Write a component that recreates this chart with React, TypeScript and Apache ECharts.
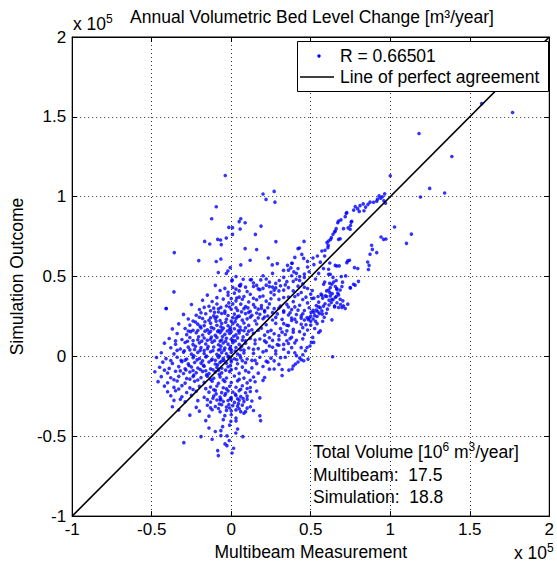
import React, { useEffect, useRef } from "react";
import * as echarts from "echarts";

// Values in thousands of m³/year: [multibeam measurement, simulation outcome]
const coreCloud: [number, number][] = [
  [-10, 44.5], [1, 43.2], [6, 45.1], [14, 43.8], [22, 44.6], [28, 42.9], [0.4, 47.3], [5.6, 44.1],
  [-36, 40.4], [-7, 41.3], [-2, 40.2], [5, 41], [10, 40.6], [18, 41.8], [25, 40.1], [33, 41.5],
  [-15, 38.4], [-2, 38.3], [2, 39.6], [8, 37.5], [12, 38.9], [20, 37.8], [27, 38.6], [36, 37.2],
  [-18, 35.2], [-12, 34.4], [-5, 35.9], [3, 34.8], [7, 35.8], [11, 34.1], [16, 35.5], [22, 34.6], [30, 35.7], [39, 34.3],
  [-25, 32.5], [-14, 31.4], [-9, 32.8], [-3, 31.6], [1, 32.9], [6, 32.7], [9, 31.2], [14, 32.4], [19, 31.8], [24, 32.9], [31, 31.5], [35, 32.6],
  [-41, 30], [-20, 29.4], [-13, 28.6], [-8, 29.8], [-4, 28.4], [0, 29.5], [4, 28.8], [8, 29.9], [12, 28.3], [17, 29.6], [21, 28.7], [27, 29.9], [33, 28.5], [38, 29.3],
  [-30, 26.3], [-22, 25.8], [-16, 26.7], [-11, 25.4], [-6, 26.9], [-2, 25.6], [2, 26.5], [5, 25.2], [9, 26.8], [13, 25.7], [18, 26.4], [23, 25.3], [29, 26.6], [36, 25.9], [41, 26.2],
  [-27, 23.4], [-24, 22.2], [-18, 23.7], [-14, 22.6], [-10, 23.9], [-7, 22.4], [-3, 23.3], [0, 22.1], [3, 23.8], [7, 22.7], [10, 23.5], [15, 22.3], [20, 23.6], [26, 22.8], [32, 23.2], [38, 22.5],
  [-33, 20.4], [-26, 19.6], [-21, 20.2], [-17, 19.3], [-13, 20.8], [-9, 19.5], [-6, 20.6], [-2, 19.2], [1, 20.5], [4, 19.7], [8, 20.9], [11, 19.4], [16, 20.3], [22, 19.8], [28, 20.7], [35, 19.5], [44, 20.1],
  [-37, 17.2], [-29, 17.5], [-24, 16.4], [-19, 17.8], [-15, 16.6], [-11, 17.4], [-8, 16.2], [-5, 17.7], [-1, 16.8], [2, 17.3], [6, 16.5], [9, 17.9], [13, 16.7], [19, 17.6], [25, 16.3], [31, 17.4], [39, 16.9],
  [-34, 14.3], [-28, 13.6], [-22, 14.8], [-18, 13.4], [-14, 14.6], [-10, 13.2], [-7, 14.9], [-4, 13.8], [-1, 14.4], [3, 13.5], [5, 14.7], [10, 13.9], [14, 14.5], [21, 13.3], [27, 14.2], [34, 13.7],
  [-39, 11.2], [-31, 10.6], [-26, 11.8], [-21, 10.4], [-17, 11.5], [-13, 10.8], [-9, 11.9], [-6, 10.3], [-3, 11.4], [0, 10.7], [4, 11.6], [7, 10.2], [12, 11.3], [18, 10.9], [24, 11.7], [30, 10.5], [37, 11.1],
  [-42, 8.3], [-35, 7.6], [-29, 8.7], [-24, 7.4], [-20, 8.5], [-16, 7.8], [-12, 8.9], [-8, 7.3], [-5, 8.4], [-2, 7.7], [1, 8.6], [5, 7.5], [9, 8.2], [15, 7.9], [22, 8.8], [29, 7.4], [36, 8.1],
  [-38, 5.4], [-32, 4.6], [-27, 5.8], [-23, 4.3], [-19, 5.5], [-15, 4.8], [-11, 5.9], [-7, 4.4], [-4, 5.2], [-1, 4.7], [3, 5.6], [6, 4.2], [11, 5.3], [17, 4.9], [26, 5.7], [33, 4.5],
  [-44, 2.3], [-36, 1.6], [-30, 2.7], [-25, 1.4], [-21, 2.5], [-17, 1.8], [-13, 2.9], [-9, 1.3], [-6, 2.4], [-3, 1.7], [0, 2.6], [4, 1.5], [8, 2.2], [14, 1.9], [20, 2.8], [28, 1.6],
  [-47, -0.7], [-41, -1.4], [-34, -0.5], [-28, -1.6], [-24, -0.8], [-20, -1.3], [-16, -0.4], [-12, -1.7], [-8, -0.6], [-5, -1.2], [-2, -0.3], [2, -1.5], [6, -0.9], [10, -1.6], [18, -0.5], [25, -1.1], [31, -0.8],
  [-43, -3.6], [-37, -4.4], [-31, -3.3], [-27, -4.7], [-23, -3.8], [-19, -4.2], [-14, -3.5], [-10, -4.8], [-7, -3.7], [-3, -4.3], [0, -3.4], [4, -4.6], [9, -3.9], [16, -4.5], [23, -3.6],
  [-45, -6.8], [-39, -7.5], [-33, -6.4], [-29, -7.7], [-25, -6.6], [-21, -7.3], [-17, -6.2], [-13, -7.8], [-9, -6.9], [-6, -7.4], [-2, -6.5], [3, -7.6], [7, -6.7], [13, -7.2], [20, -6.3], [27, -7.9],
  [-48, -9.6], [-40, -10.4], [-35, -9.3], [-30, -10.7], [-26, -9.8], [-22, -10.2], [-18, -9.4], [-14, -10.8], [-10, -9.7], [-6, -10.3], [-1, -9.5], [5, -10.6], [11, -9.9], [17, -10.5],
  [-44, -12.7], [-38, -13.4], [-33, -12.5], [-28, -13.8], [-24, -12.6], [-19, -13.3], [-15, -12.4], [-11, -13.7], [-7, -12.8], [-3, -13.5], [2, -12.3], [8, -13.6], [14, -12.9], [21, -13.2],
  [-46, -15.8], [-40, -16.5], [-34, -15.4], [-29, -16.7], [-23, -15.6], [-17, -16.3], [-12, -15.5], [-8, -16.8], [-4, -15.7], [0, -16.4], [4, -15.3], [10, -16.6], [15, -15.9],
  [-42, -18.6], [-36, -19.4], [-31, -18.3], [-26, -19.7], [-20, -18.8], [-13, -19.2], [-9, -18.5], [-5, -19.6], [-1, -18.7], [3, -19.3], [7, -18.4], [12, -19.5],
  [-40, -22.1], [-35, -21.5], [-28, -22.6], [-22, -21.8], [-14, -22.4], [-10, -21.3], [-6, -22.7], [-2, -21.6], [1, -22.3], [5, -21.4], [9, -22.8], [16, -21.7],
  [-38, -24.6], [-31, -25.3], [-25, -24.4], [-17, -25.6], [-11, -24.8], [-7, -25.5], [-4, -24.3], [0, -25.7], [3, -24.5], [6, -25.2], [10, -24.9],
  [-36, -27.5], [-29, -28.4], [-21, -27.7], [-13, -28.6], [-9, -27.3], [-5, -28.2], [-2, -27.6], [2, -28.8], [5, -27.4], [8, -28.3], [13, -27.9],
  [-37, -31.5], [-22, -31.9], [-15, -30.6], [-10, -31.4], [-6, -30.3], [-3, -31.7], [1, -30.8], [4, -31.2], [7, -30.5], [12, -31.5],
  [-33, -33.6], [-20, -34.3], [-12, -33.4], [-7, -34.7], [-3, -33.8], [0, -34.2], [3, -33.5], [6, -34.6], [9, -34.6], [14, -33.9],
  [-26, -36.8], [-14, -37.4], [-4, -37.1], [0, -36.5], [3, -38.6], [8, -35.6], [18, -37.2],
  [-16, -40.2], [-5, -39.6], [-0.2, -40.6], [3, -40.4], [18.5, -40.2],
];

// Extra density in the heart of the cloud
const denseCentre: [number, number][] = [
  [-22.5, 21.5], [-19.5, 18.8], [-16.5, 21.7], [-12.5, 18.2], [-9.5, 22.1], [-6.5, 18.6], [-3.5, 21.4], [-0.5, 18.1], [2.5, 21.8], [5.5, 18.4],
  [-25.5, 15.5], [-20.5, 12.3], [-16.5, 15.8], [-12.5, 12.1], [-8.5, 15.6], [-5.5, 12.4], [-2.5, 15.9], [1.5, 12.6], [4.5, 16.1], [7.5, 12.2],
  [-27.5, 9.5], [-22.5, 6.3], [-18.5, 9.6], [-14.5, 6.2], [-10.5, 9.8], [-6.5, 6.4], [-3.5, 9.5], [-0.5, 6.1], [2.5, 9.7], [6.5, 6.3],
  [-29.5, 3.5], [-23.5, 0.3], [-19.5, 3.8], [-15.5, 0.2], [-11.5, 3.6], [-7.5, 0.4], [-4.5, 3.9], [-1.5, 0.1], [2.5, 3.4], [5.5, 0.6],
  [-31.5, -2.5], [-26.5, -5.7], [-21.5, -2.2], [-17.5, -5.6], [-12.5, -2.4], [-8.5, -5.2], [-4.5, -2.6], [-0.5, -5.8], [3.5, -2.1],
  [-28.5, -8.5], [-23.5, -11.7], [-19.5, -8.2], [-15.5, -11.6], [-11.5, -8.4], [-7.5, -11.2], [-3.5, -8.6],
  [-9.5, -23.5], [-6.5, -26.7], [-3.5, -23.2], [-0.5, -26.4], [2.5, -23.6], [4.5, -29.6], [-7.5, -29.8], [-1.5, -30.2], [7.5, -26.4], [-11.5, -26.2],
  [-1.5, 33.5], [3.5, 36.6], [-6.5, 30.7], [10.5, 30.4], [-10.5, 27.6], [6.5, 27.9],
];

// A second, offset layer through the core
const coreLayer: [number, number][] = [
  [-4, 42.6], [3, 42.1], [9, 43.4], [17, 42.3], [24, 43.7], [31, 44.2],
  [-9, 36.8], [0, 36.2], [5, 37.1], [14, 36.4], [18, 37.3], [25, 36.1], [33, 36.9],
  [-17, 30.7], [-11, 30.2], [-1, 30.9], [3, 30.4], [15, 30.8], [19, 30.1], [23, 30.5], [30, 30.3], [36, 30.9],
  [-19, 27.3], [-8, 27.8], [-4, 27.1], [11, 27.6], [16, 27.2], [21, 27.9], [26, 27.4], [33, 27.7],
  [-20, 24.5], [-13, 24.2], [-9, 24.8], [1, 24.3], [4, 24.9], [12, 24.6], [17, 24.1], [21, 24.7], [28, 24.4],
  [-27, 15.9], [-21, 16.2], [-13, 15.7], [-6, 16.3], [0, 15.6], [8, 16.1], [11, 15.8], [17, 16.4], [23, 15.5],
  [-35, 9.7], [-24, 9.9], [-15, 10.1], [-7, 9.6], [1, 10], [9, 9.8], [15, 10.2], [21, 9.7],
  [-34, 3.8], [-26, 4.1], [-17, 3.7], [-8, 4], [0, 4.2], [8, 3.9], [14, 4.4], [22, 3.6],
  [-38, -2.6], [-29, -2.3], [-18, -2.8], [-10, -2.4], [-6, -2.9], [0, -2.2], [7, -2.7], [13, -2.5],
  [-42, -8.6], [-32, -9.1], [-24, -8.8], [-16, -9], [-8, -8.7], [0, -8.3], [9, -8.9],
  [-36, -14.6], [-26, -14.2], [-21, -14.8], [-13, -14.3], [-5, -14.7], [5, -14.4], [12, -14.9],
  [-33, -20.4], [-24, -20.7], [-16, -20.2], [-11, -20.9], [-3, -20.3], [6, -20.6], [10, -20.1],
  [-32, -26.8], [-15, -27.1], [-7, -27.2], [0, -27], [4, -26.5], [10, -26.8],
  [-8, -32.6], [-1, -32.3], [5, -32.8], [10, -32.4], [-13, -32.2],
];

const southTail: [number, number][] = [
  [-6.5, -46.5], [-5.4, -44], [-1, -43], [2.9, -48], [-6.5, -49.6], [-2.7, -49.8], [7.3, -50.2], [-1.25, -52.7],
  [-19, -50.2], [-12, -51.9], [-29.8, -54], [-3.9, -54.8], [-2.7, -55.9], [-8.5, -59], [-8.1, -62.1], [4, -45.5],
  [-10, -47], [1.5, -57.5], [-14, -44.8], [0.5, -60.5],
];

const eastBand: [number, number][] = [
  [12, 48], [18.6, 47.9], [30.2, 47.5], [40.8, 48.3], [7.5, 48.3], [12.7, 48.1], [24, 46.5], [35, 46.8], [45, 45.5], [5.2, 44.4],
  [16, 44.5], [26, 43.4], [36, 43.1], [42, 44], [48, 42.5], [46, 49.5], [38, 50.5], [30, 41], [44, 40], [50, 39],
  [40, 37.5], [45, 35.6], [52, 36.5], [43, 32], [48, 33.5], [55, 31], [40, 31], [46, 28.7], [52, 27.5], [44, 25.4],
  [49, 24], [38, 24], [33, 20.5], [41, 21.5], [47, 19.8], [53, 22], [35, 16], [43, 15.5], [48, 16.5], [30, 13],
  [38, 12], [45, 11], [26, 10], [33, 7.5], [40, 8.5], [44, 5.5], [28, 3.5], [36, 2.5], [22, -3], [30, -5],
  [15, -2.5], [24, -8], [32, -12], [20, -15], [12, -22], [18, -26],
  [14, 46], [22, 48.5], [28, 45.7], [33, 49.5], [43, 47.6], [20, 42.6], [27, 41.5], [34, 44.8], [39, 41], [46, 43.3], [51, 41.3],
  [42, 38.7], [47, 37.1], [49, 30.5], [42, 29], [37, 27.3], [45, 26.7], [50, 25.2], [40, 23.3], [36, 19.3], [45, 18], [50, 19.6],
  [39, 15.2], [46, 13.8], [32, 15.2], [41, 10.1], [35, 9.8], [30, 7], [38, 5.5], [24, 6.5], [34, -0.5], [40, 2.3], [27, -2.8], [32, -8.2],
];

const lowerBranch: [number, number][] = [
  [63.75, -0.2], [63.3, 22.9], [69.6, 30.6], [73.3, 32.7], [70.2, 34.8], [68.5, 35.8], [66, 37.5], [67.5, 38.5], [62, 40], [63.5, 39.3],
  [62.9, 33.75], [59, 33], [57.5, 36.5], [60, 37.5], [55, 34], [53.5, 29], [57, 28.5], [59.8, 27], [57.3, 26.5], [54.5, 28],
  [51.5, 28.8], [50.2, 27.6], [54, 25], [52.5, 25.5], [50, 22], [47.7, 24.3], [48.5, 23], [51.5, 23.4], [46, 22.8], [44, 24],
  [55, 15], [56, 16], [52.5, 17.5], [51.25, 11.9], [51.9, 8.75], [50.4, 8.75], [49.5, 6.5], [47.7, 5.6], [46.7, 3.5], [48.3, -1.7],
  [45.6, -2.7], [44, -2], [42, -3.5], [40.4, -4.8], [39, -6], [38.3, -7.9], [36.25, -8.6], [43, -1], [41, 0.5], [45, 1],
  [58, 31.5], [61.5, 32.2], [65, 31], [64, 35.5], [56.5, 39],
  [61.9, 45.8], [63.3, 45.2], [64.4, 46.6], [62.3, 43.1], [61.25, 41.6], [59.2, 37.9], [62.3, 37.9], [63.3, 35.8], [65.4, 36.9],
  [65, 31.6], [67.5, 30.6], [70.6, 31.6], [71.7, 30], [66.4, 42.5], [68.5, 41.6], [69.6, 43.75],
  [58.75, 46.6], [58.1, 45.2], [66.4, 42], [67, 39.6], [57, 38.3], [54.6, 37.5], [50.8, 36.25],
  [56, 30.5], [53.5, 31.8], [55.5, 26.8], [58.5, 24.5], [60.5, 29.6], [57.5, 22], [54, 20.5], [61.5, 35.2], [66.5, 33.6], [68.8, 32.5], [60, 41], [65.5, 43.8],
];

const upperArm: [number, number][] = [
  [100, 113.1], [96, 97.5], [95, 100], [96.5, 101.8], [94, 99], [92, 98.5], [93, 100.5], [97, 96], [91.5, 97.2], [89.5, 96.5],
  [87.3, 96.6], [86, 95.2], [84.5, 93.5], [83, 95.5], [81, 94.4], [79.5, 92.5], [78, 93.8], [77, 91.6], [80.5, 90.8], [83.5, 91.2],
  [72.3, 89.6], [72.7, 90], [71.7, 87.5], [75.8, 84.6], [75.4, 84.1], [75, 82], [67.5, 84.8], [67, 83.7], [69, 85.5], [66, 80],
  [65.4, 78.5], [70.6, 80], [74.8, 79.6], [73.5, 80.5], [65, 77.9], [64, 76.5], [68.5, 73.7], [63, 74.4], [62.5, 73.3], [61.25, 72.3],
  [67.5, 73.3], [60.2, 71.25], [61, 69.5], [60.8, 68.1], [59, 66.5], [45.8, 72], [42.9, 67.9], [44.4, 63.9], [45.6, 61.4], [51.4, 61.6],
  [54.2, 62.9], [58.75, 62.9], [56, 59], [52, 57.5], [48, 56], [42, 55], [38.3, 58.3], [41, 52], [46, 51.5], [49, 53],
  [43, 50], [39, 47], [55, 52], [53, 48.5], [58, 55], [62, 58.5], [48, 59.5], [36, 54], [40, 62], [57, 66],
];

const rightFlank: [number, number][] = [
  [102.7, 81], [113.3, 76.6], [110.2, 70.8], [94.2, 74.8], [95.8, 73.3], [97.3, 73.5], [88.3, 69.6], [88.75, 67],
  [87.3, 64], [91.5, 65], [85.8, 59.1], [86.7, 57], [86.25, 54.4], [79.6, 55], [77.5, 55.6], [73.3, 59.8],
  [74.4, 60.2], [72.7, 58.7], [65.4, 57], [66.4, 56.6], [67.9, 56.7], [61.25, 51.4], [69.2, 50], [72, 50.4], [76.9, 45.2],
  [77.9, 44.6], [74.8, 43.1], [75, 42.8], [61.25, 54.6], [62.3, 51.4], [80, 47], [70, 46.5], [66, 47.5], [64, 49.5],
];

const northScatter: [number, number][] = [
  [-3.75, 113.3], [20, 101.7], [27, 103.3], [21.9, 98.3], [27.5, 96.6], [-9.4, 93.7], [-12.3, 86.2], [6, 86.2], [5, 84.4], [8.75, 83.7],
  [18.75, 81.6], [-1.5, 80.8], [0.8, 80.6], [5.6, 79.8], [0.8, 76.4], [15.2, 76.4], [-16.7, 72], [-8.5, 73.3], [-6.7, 72.9], [-3.1, 74.1],
  [28.1, 71.9], [-13.5, 70.4], [-6.25, 70], [8.75, 67.5], [16, 66.9], [-35.8, 65], [23.3, 61.6], [-20.4, 60], [-6.5, 61], [-9.4, 59.4],
  [11.9, 60.2], [6, 57.3], [25.8, 57.3], [29, 58.1], [35.4, 57], [38.1, 58.3], [-0.6, 55.6], [-2.1, 53.5], [-8.1, 52.5], [-3.1, 51.9],
  [32.9, 53.9], [39.4, 52.9], [37.5, 55.4], [42, 67.5], [0.6, 47.9], [-40.8, 30], [3, 50], [20, 50.5], [26, 52],
];

const farOutliers: [number, number][] = [
  [124.8, 105.2], [134.2, 102.3], [119, 99.8], [176.9, 152.7], [157.5, 158.3], [118.1, 139.6], [138.75, 125.2],
];

// Line of perfect agreement endpoints
const agreementLine: [number, number][] = [[-100, -100], [200, 200]];

// Axis ticks (thousands of m³/year) and their labels in units of 10^5
const axisTicks = [-100, -50, 0, 50, 100, 150, 200];
const tickLabels = ["-1", "-0.5", "0", "0.5", "1", "1.5", "2"];

const correlation = "0.66501";
const totalLabels = ["Multibeam:", "Simulation:"];
const totalValues = [17.5, 18.8];

const FONT = '"Liberation Sans", Arial, Helvetica, sans-serif';
const FS = 17.5;

const tickLabel = (v: number) => {
  const i = axisTicks.indexOf(Math.round(v));
  return i >= 0 ? tickLabels[i] : "";
};

export default function App() {
  const ref = useRef<HTMLDivElement>(null);

  useEffect(() => {
    if (!ref.current) return;
    const chart = echarts.init(ref.current, undefined, { renderer: "svg" });

    const points = [
      ...coreCloud, ...denseCentre, ...coreLayer, ...southTail, ...eastBand, ...lowerBranch,
      ...upperArm, ...rightFlank, ...northScatter, ...farOutliers,
    ];

    const axisCommon = {
      type: "value",
      min: axisTicks[0],
      max: axisTicks[axisTicks.length - 1],
      interval: 50,
      axisLine: { show: true, onZero: false, lineStyle: { color: "#000", width: 1 } },
      axisTick: { show: true, inside: true, length: 5, lineStyle: { color: "#000" } },
    };

    const superRich = {
      a: { fontSize: FS, fontFamily: FONT, color: "#000", verticalAlign: "bottom" },
      s: { fontSize: 12, fontFamily: FONT, color: "#000", verticalAlign: "bottom", padding: [0, 0, 8, 0] },
    };

    const option: any = {
      animation: false,
      backgroundColor: "#fff",
      textStyle: { fontFamily: FONT, color: "#000" },
      grid: { left: 72, top: 37, width: 480, height: 480, show: true, borderColor: "#000", borderWidth: 1 },
      xAxis: [
        {
          ...axisCommon,
          position: "bottom",
          axisLabel: { formatter: tickLabel, color: "#000", fontSize: 17, fontFamily: FONT, margin: 5 },
          splitLine: { show: true, lineStyle: { color: "#333", width: 1, type: [1, 3] } },
          name: "Multibeam Measurement",
          nameLocation: "middle",
          nameGap: 25,
          nameTextStyle: { fontSize: FS, fontFamily: FONT, color: "#000" },
        },
        { ...axisCommon, position: "top", axisLabel: { show: false }, splitLine: { show: false } },
      ],
      yAxis: [
        {
          ...axisCommon,
          position: "left",
          axisLabel: { formatter: tickLabel, color: "#000", fontSize: 17, fontFamily: FONT, margin: 6 },
          splitLine: { show: true, lineStyle: { color: "#333", width: 1, type: [1, 3] } },
          name: "Simulation Outcome",
          nameLocation: "middle",
          nameGap: 45,
          nameTextStyle: { fontSize: FS, fontFamily: FONT, color: "#000" },
        },
        { ...axisCommon, position: "right", axisLabel: { show: false }, splitLine: { show: false } },
      ],
      series: [
        {
          type: "scatter",
          data: points,
          symbol: "circle",
          symbolSize: 3.6,
          itemStyle: { color: "#0000ff" },
          silent: true,
        },
        {
          type: "line",
          data: agreementLine,
          symbol: "none",
          lineStyle: { color: "#000", width: 1.6 },
          silent: true,
        },
      ],
      graphic: [
        {
          type: "text",
          x: 312,
          y: 17,
          style: {
            text: "Annual Volumetric Bed Level Change [m³/year]",
            fontSize: FS, fontFamily: FONT, fill: "#000", align: "center", verticalAlign: "middle",
          },
        },
        {
          type: "text",
          x: 73,
          y: 33,
          style: { text: "{a|x 10}{s|5}", rich: superRich, align: "left", verticalAlign: "bottom" },
        },
        {
          type: "text",
          x: 514,
          y: 562,
          style: { text: "{a|x 10}{s|5}", rich: superRich, align: "left", verticalAlign: "bottom" },
        },
        // legend box
        {
          type: "rect",
          z: 100,
          shape: { x: 297.5, y: 41.5, width: 251, height: 50 },
          style: { fill: "#fff", stroke: "#000", lineWidth: 1 },
        },
        {
          type: "circle",
          z: 101,
          shape: { cx: 319, cy: 56, r: 1.7 },
          style: { fill: "#0000ff" },
        },
        {
          type: "text",
          z: 101,
          x: 340,
          y: 56,
          style: { text: `R = ${correlation}`, fontSize: FS, fontFamily: FONT, fill: "#000", align: "left", verticalAlign: "middle" },
        },
        {
          type: "line",
          z: 101,
          shape: { x1: 300, y1: 77, x2: 334, y2: 77 },
          style: { stroke: "#000", lineWidth: 1.5 },
        },
        {
          type: "text",
          z: 101,
          x: 340,
          y: 77,
          style: { text: "Line of perfect agreement", fontSize: FS, fontFamily: FONT, fill: "#000", align: "left", verticalAlign: "middle" },
        },
        // volume totals
        {
          type: "text",
          z: 101,
          x: 313,
          y: 461,
          style: {
            text: "{a|Total Volume [10}{s|6}{a| m}{s|3}{a|/year]}",
            rich: superRich, align: "left", verticalAlign: "bottom",
          },
        },
        {
          type: "text",
          z: 101,
          x: 313,
          y: 475,
          style: { text: `${totalLabels[0]}  ${totalValues[0].toFixed(1)}`, fontSize: FS, fontFamily: FONT, fill: "#000", align: "left", verticalAlign: "middle" },
        },
        {
          type: "text",
          z: 101,
          x: 313,
          y: 497,
          style: { text: `${totalLabels[1]}  ${totalValues[1].toFixed(1)}`, fontSize: FS, fontFamily: FONT, fill: "#000", align: "left", verticalAlign: "middle" },
        },
      ],
    };

    chart.setOption(option);
    return () => chart.dispose();
  }, []);

  return (
    <div
      ref={ref}
      style={{ position: "fixed", left: 0, top: 0, width: 557, height: 566, background: "#fff" }}
    />
  );
}
